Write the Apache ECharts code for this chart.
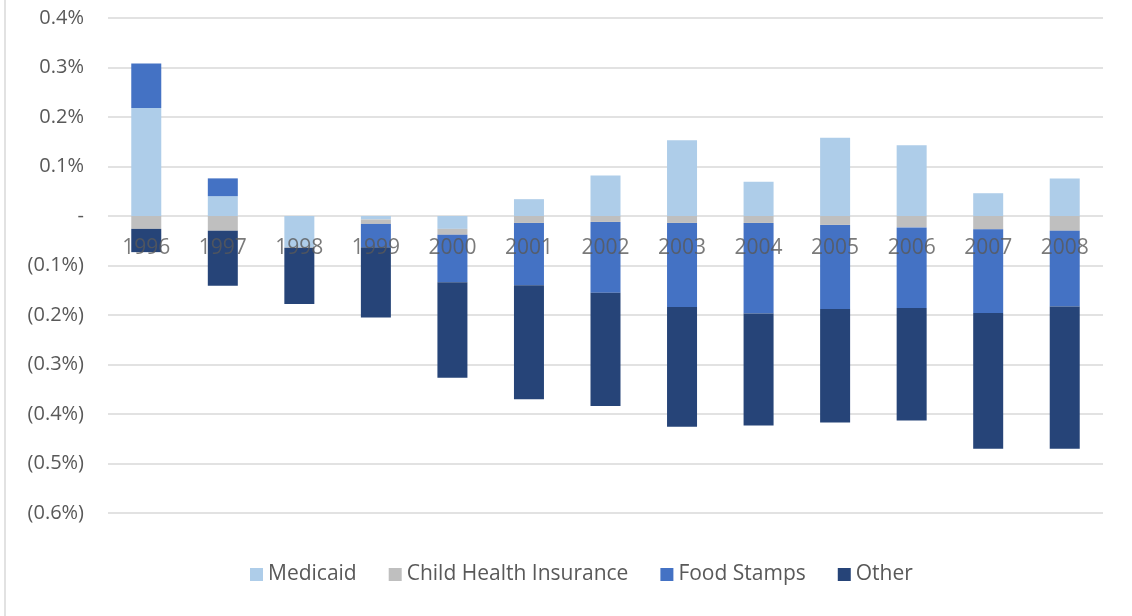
<!DOCTYPE html>
<html>
	<head>
		<meta charset="utf-8">
		<title>Stacked bars</title>
		<script src="https://cdn.jsdelivr.net/npm/echarts@6/dist/echarts.min.js"></script>
		<style>
			html, body {
				margin: 0;
				padding: 0;
				background: #ffffff;
			}

			#chart {
				width: 1132px;
				height: 616px;
			}
		</style>
	</head>
	<body>
		<div id="chart"></div>
		<script>
			// values in percent points (0.1 = 0.1%)
			var years = ['1996', '1997', '1998', '1999', '2000', '2001', '2002', '2003', '2004', '2005', '2006', '2007', '2008'];
			var medicaid = [0.218, 0.040, -0.063, -0.007, -0.026, 0.034, 0.082, 0.153, 0.069, 0.158, 0.143, 0.046, 0.076];
			var childHealth = [-0.026, -0.030, -0.001, -0.009, -0.012, -0.014, -0.012, -0.014, -0.014, -0.018, -0.023, -0.027, -0.030];
			var foodStamps = [0.090, 0.036, 0, -0.047, -0.096, -0.126, -0.143, -0.170, -0.183, -0.170, -0.163, -0.169, -0.153];
			var other = [-0.047, -0.111, -0.114, -0.142, -0.193, -0.230, -0.229, -0.242, -0.226, -0.229, -0.227, -0.274, -0.287];
			var yTicks = [0.4, 0.3, 0.2, 0.1, 0, -0.1, -0.2, -0.3, -0.4, -0.5, -0.6];

			var textColor = '#595959';
			var font = 'Open Sans';

			function fmtPct(v) {
				var r = Math.round(v * 10) / 10;
				if (r === 0) return '-';
				if (r < 0) return '(' + Math.abs(r).toFixed(1) + '%)';
				return r.toFixed(1) + '%';
			}

			function bar(name, data, color) {
				return {
					name: name,
					type: 'bar',
					stack: 'total',
					barWidth: 30,
					data: data,
					itemStyle: {
						color: color
					}
				};
			}

			var chart = echarts.init(document.getElementById('chart'), null, { renderer: 'canvas' });

			var option = {
				animation: false,
				backgroundColor: '#ffffff',
				textStyle: {
					fontFamily: font
				},
				graphic: [{
					type: 'line',
					shape: { x1: 5, y1: 0, x2: 5, y2: 616 },
					style: { stroke: '#d9d9d9', lineWidth: 1.5 }
				}],
				legend: {
					bottom: 26,
					left: 245,
					itemWidth: 13,
					itemHeight: 13,
					itemGap: 32,
					icon: 'rect',
					textStyle: {
						color: textColor,
						fontSize: 21,
						fontFamily: font
					},
					data: ['Medicaid', 'Child Health Insurance', 'Food Stamps', 'Other']
				},
				grid: {
					left: 108,
					right: 29,
					top: 18,
					bottom: 103,
					containLabel: false
				},
				xAxis: {
					type: 'category',
					data: years,
					axisLine: { show: false },
					axisTick: { show: false },
					axisLabel: { show: false }
				},
				yAxis: {
					type: 'value',
					min: yTicks[yTicks.length - 1],
					max: yTicks[0],
					interval: 0.1,
					axisLine: { show: false },
					axisTick: { show: false },
					splitLine: {
						lineStyle: { color: '#d9d9d9', width: 1.5 }
					},
					axisLabel: {
						color: textColor,
						fontSize: 20,
						fontFamily: font,
						margin: 24,
						formatter: fmtPct
					}
				},
				series: [
					bar('Medicaid', medicaid, '#aecde9'),
					bar('Child Health Insurance', childHealth, '#bfbfbf'),
					bar('Food Stamps', foodStamps, '#4472c4'),
					bar('Other', other, '#264478'),
					{
						// year labels sit on the zero line, drawn over the bars
						name: 'yearLabels',
						type: 'scatter',
						silent: true,
						z: 10,
						symbolSize: 1,
						itemStyle: { color: 'rgba(0,0,0,0)' },
						data: years.map(function() { return 0; }),
						label: {
							show: true,
							position: 'bottom',
							distance: 21,
							color: textColor,
							fontSize: 21,
							fontFamily: font,
							formatter: function(p) { return p.name; }
						}
					}
				]
			};
			chart.setOption(option);
		</script>
	</body>
</html>
